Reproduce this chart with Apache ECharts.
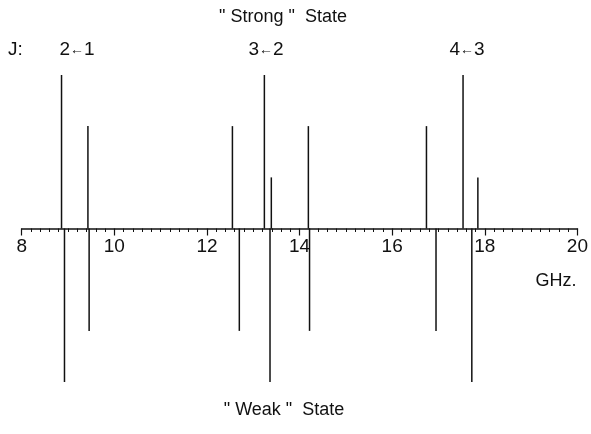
<!DOCTYPE html>
<html>
<head>
<meta charset="utf-8">
<script src="https://cdn.jsdelivr.net/npm/echarts@6/dist/echarts.min.js"></script>
<style>
html,body{margin:0;padding:0;background:#fff;}
#chart{width:591px;height:434px;}
</style>
</head>
<body>
<div id="chart"></div>
<script>
// Data
const strongFreq = [8.86, 9.43, 12.55, 13.24, 13.39, 14.19, 16.74, 17.53, 17.85];
const strongInt  = [1, 0.667, 0.667, 1, 0.333, 0.667, 0.667, 1, 0.333];
const weakFreq   = [8.92, 9.45, 12.68, 13.34, 14.19, 16.91, 17.68];
const weakInt    = [-1, -0.667, -0.667, -1, -0.667, -0.667, -1];
const transitionLabels = [['2', '1'], ['3', '2'], ['4', '3']];
const xTicks = [8, 10, 12, 14, 16, 18, 20];

const FONT = '"Liberation Sans", Arial, Helvetica, sans-serif';
const INK = '#111';

function stickSeries(name, freqs, ints, gi) {
  return {
    name: name,
    type: 'custom',
    xAxisIndex: gi,
    yAxisIndex: gi,
    data: freqs.map((f, i) => [f, ints[i]]),
    renderItem: function (params, api) {
      const p0 = api.coord([api.value(0), 0]);
      const p1 = api.coord([api.value(0), api.value(1)]);
      return {
        type: 'line',
        shape: { x1: p0[0], y1: p0[1], x2: p1[0], y2: p1[1] },
        style: { stroke: INK, lineWidth: 1.5 }
      };
    },
    clip: false,
    animation: false
  };
}

function transLabel(pair, x) {
  return {
    type: 'text',
    style: {
      text: '{d|' + pair[0] + '}{a|\u2190}{d|' + pair[1] + '}',
      x: x, y: 50, textAlign: 'center', textVerticalAlign: 'middle',
      rich: {
        d: { fontSize: 19, fontFamily: FONT, fill: INK },
        a: { fontSize: 14, fontFamily: FONT, fill: INK, padding: [0, 0, 0, 0] }
      }
    }
  };
}

const chart = echarts.init(document.getElementById('chart'), null, { renderer: 'canvas' });
chart.setOption({
  backgroundColor: '#fff',
  animation: false,
  grid: [
    { left: 21.7, right: 11.3, top: 75, height: 153.5 },
    { left: 21.7, right: 11.3, top: 228.5, height: 153.5 }
  ],
  xAxis: [
    {
      gridIndex: 0,
      type: 'value',
      min: xTicks[0],
      max: xTicks[xTicks.length - 1],
      interval: 2,
      position: 'bottom',
      axisLine: { show: true, onZero: false, lineStyle: { color: INK, width: 1.5 } },
      axisTick: { show: true, inside: false, length: 7, lineStyle: { color: INK, width: 1.2 } },
      minorTick: { show: true, splitNumber: 10, length: 3.5, lineStyle: { color: INK, width: 1 } },
      splitLine: { show: false },
      axisLabel: { color: INK, fontSize: 19, fontFamily: FONT, margin: 9 }
    },
    {
      gridIndex: 1,
      type: 'value',
      min: xTicks[0],
      max: xTicks[xTicks.length - 1],
      interval: 2,
      show: false
    }
  ],
  yAxis: [
    { gridIndex: 0, type: 'value', min: 0, max: 1, show: false, splitLine: { show: false } },
    { gridIndex: 1, type: 'value', min: -1, max: 0, show: false, splitLine: { show: false } }
  ],
  series: [
    stickSeries('Strong', strongFreq, strongInt, 0),
    stickSeries('Weak', weakFreq, weakInt, 1)
  ],
  graphic: [
    { type: 'text', style: { text: '" Strong "  State', x: 283, y: 17, textAlign: 'center', textVerticalAlign: 'middle', fill: INK, font: '18px ' + FONT } },
    { type: 'text', style: { text: 'J:', x: 8, y: 50, textVerticalAlign: 'middle', fill: INK, font: '19px ' + FONT } },
    transLabel(transitionLabels[0], 77),
    transLabel(transitionLabels[1], 266),
    transLabel(transitionLabels[2], 467),
    { type: 'text', style: { text: 'GHz.', x: 556, y: 281, textAlign: 'center', textVerticalAlign: 'middle', fill: INK, font: '18px ' + FONT } },
    { type: 'text', style: { text: '" Weak "  State', x: 284, y: 410, textAlign: 'center', textVerticalAlign: 'middle', fill: INK, font: '18px ' + FONT } }
  ]
});
</script>
</body>
</html>
